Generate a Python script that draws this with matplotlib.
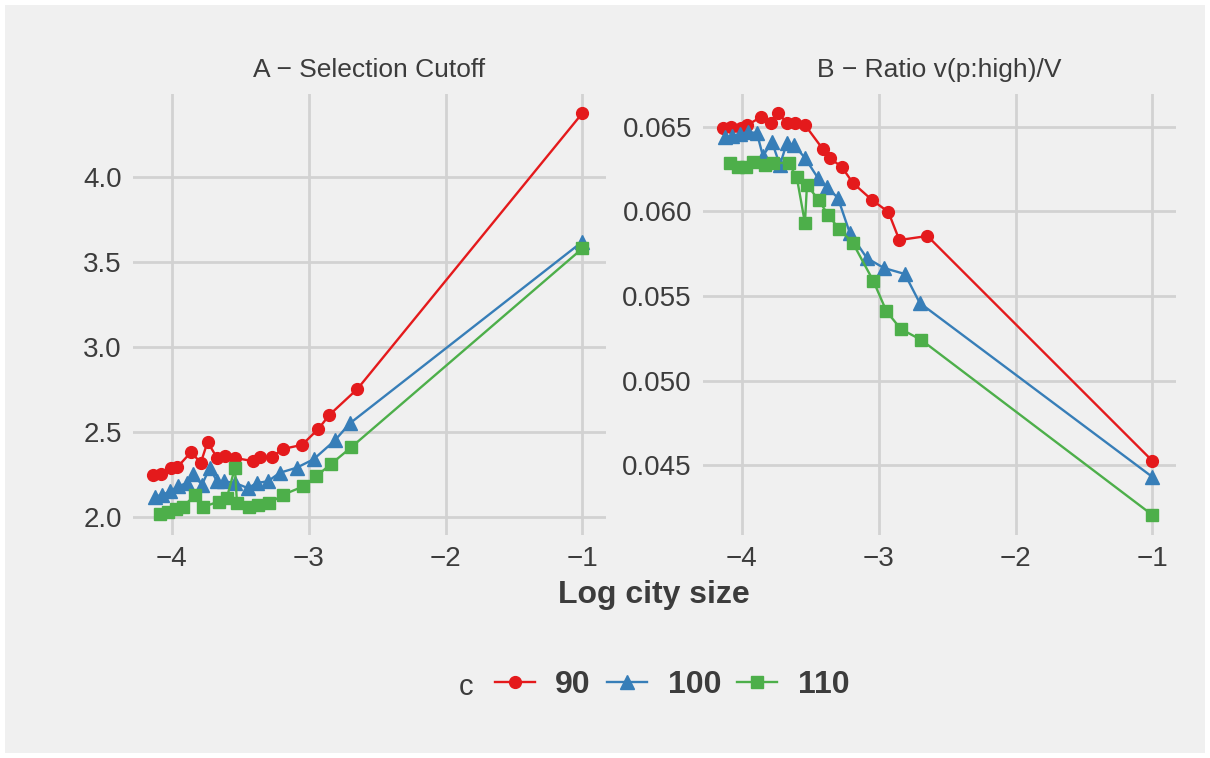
import matplotlib
matplotlib.use("Agg")
import matplotlib.pyplot as plt
from matplotlib.lines import Line2D
from matplotlib.patches import Rectangle

plt.rcParams["font.family"] = ["Liberation Sans", "DejaVu Sans"]

# c values and styles
c_levels = ["90", "100", "110"]

# log city size per series
x_90 = [-4.14, -4.08, -4.01, -3.96, -3.86, -3.79, -3.74, -3.67, -3.61, -3.54,
        -3.41, -3.36, -3.27, -3.19, -3.05, -2.93, -2.85, -2.645, -1.0]
x_100 = [-4.124, -4.073, -4.015, -3.956, -3.891, -3.847, -3.781, -3.723, -3.672, -3.62,
         -3.54, -3.445, -3.38, -3.299, -3.212, -3.088, -2.964, -2.81, -2.701, -1.0]
x_110 = [-4.09, -4.03, -3.97, -3.92, -3.83, -3.77, -3.66, -3.60, -3.54, -3.525,
         -3.44, -3.37, -3.29, -3.19, -3.04, -2.945, -2.84, -2.69, -1.0]

# panel A: selection cutoff
cut_90 = [2.247, 2.253, 2.288, 2.294, 2.382, 2.318, 2.441, 2.347, 2.359, 2.347,
          2.329, 2.353, 2.353, 2.400, 2.424, 2.518, 2.600, 2.753, 4.376]
cut_100 = [2.12, 2.13, 2.15, 2.18, 2.20, 2.25, 2.19, 2.29, 2.21, 2.21,
           2.20, 2.17, 2.20, 2.21, 2.26, 2.29, 2.34, 2.45, 2.55, 3.62]
cut_110 = [2.018, 2.03, 2.047, 2.06, 2.13, 2.06, 2.09, 2.11, 2.29, 2.08,
           2.06, 2.07, 2.08, 2.13, 2.18, 2.24, 2.31, 2.41, 3.58]

# panel B: ratio v(p:high)/V
ratio_90 = [0.06494, 0.0650, 0.06494, 0.06512, 0.06559, 0.06524, 0.06583, 0.06524, 0.06524, 0.06512,
            0.0637, 0.06317, 0.06263, 0.06169, 0.06068, 0.05997, 0.05831, 0.05855, 0.04524]
ratio_100 = [0.06441, 0.06447, 0.06459, 0.0647, 0.06464, 0.06328, 0.06411, 0.06275, 0.06405, 0.06393,
             0.06317, 0.06198, 0.06145, 0.0608, 0.05873, 0.05725, 0.05666, 0.0563, 0.05459, 0.04429]
ratio_110 = [0.06287, 0.06263, 0.06263, 0.06293, 0.06275, 0.06287, 0.06287, 0.06204, 0.05932, 0.06157,
             0.06068, 0.05979, 0.05896, 0.05814, 0.05589, 0.05411, 0.05305, 0.0524, 0.04204]

colors = ["#E41A1C", "#377EB8", "#4DAF4A"]
markers = ["o", "^", "s"]
msizes = [8.5, 10.5, 9.0]

BG = "#F0F0F0"
GRID = "#D2D2D2"
TXT = "#3C3C3C"

W, H = 1210, 758
fig = plt.figure(figsize=(W / 100, H / 100), dpi=100, facecolor="white")
fig.patches.append(Rectangle((5 / W, 5 / H), 1 - 10 / W, 1 - 10 / H, transform=fig.transFigure,
                             facecolor=BG, edgecolor="none", zorder=-10))


def px_axes(left, top, right, bottom):
    return fig.add_axes([left / W, 1 - bottom / H, (right - left) / W, (bottom - top) / H])


def style(ax, ylim, yticks, fmt):
    ax.set_facecolor(BG)
    for s in ax.spines.values():
        s.set_visible(False)
    ax.set_xlim(-4.285, -0.828)
    ax.set_ylim(*ylim)
    ax.set_xticks([-4, -3, -2, -1])
    ax.set_xticklabels(["\u22124", "\u22123", "\u22122", "\u22121"])
    ax.set_yticks(yticks)
    ax.set_yticklabels([fmt.format(v) for v in yticks])
    ax.grid(True, color=GRID, linewidth=2)
    ax.set_axisbelow(True)
    ax.tick_params(length=0, labelsize=20, labelcolor=TXT, pad=8)


axA = px_axes(133, 94, 606, 535)
axB = px_axes(703, 94, 1176, 535)

xs = [x_90, x_100, x_110]
for x, y, c, m, ms in zip(xs, [cut_90, cut_100, cut_110], colors, markers, msizes):
    axA.plot(x, y, color=c, marker=m, markersize=ms, linewidth=1.7)
for x, y, c, m, ms in zip(xs, [ratio_90, ratio_100, ratio_110], colors, markers, msizes):
    axB.plot(x, y, color=c, marker=m, markersize=ms, linewidth=1.7)

style(axA, (1.894, 4.488), [2.0, 2.5, 3.0, 3.5, 4.0], "{:.1f}")
style(axB, (0.04086, 0.06695), [0.045, 0.050, 0.055, 0.060, 0.065], "{:.3f}")

axA.set_title("A \u2212 Selection Cutoff", fontsize=19, color=TXT, pad=12)
axB.set_title("B \u2212 Ratio v(p:high)/V", fontsize=19, color=TXT, pad=12)

fig.text(654 / W, 1 - 595 / H, "Log city size", ha="center", va="center",
         fontsize=23, fontweight="bold", color=TXT)

handles = [Line2D([], [], color=c, marker=m, markersize=ms, linewidth=1.7)
           for c, m, ms in zip(colors, markers, msizes)]
fig.text(466 / W, 1 - 687 / H, "c", ha="center", va="center", fontsize=21, color=TXT)
leg = fig.legend(handles, c_levels, loc="center", bbox_to_anchor=(672 / W, 1 - 685 / H),
                 ncol=3, frameon=False, handlelength=1.25, columnspacing=0.5, handletextpad=0.65,
                 prop={"size": 23, "weight": "bold"})
for t in leg.get_texts():
    t.set_color(TXT)

fig.savefig("out.png", dpi=100, facecolor="white")
